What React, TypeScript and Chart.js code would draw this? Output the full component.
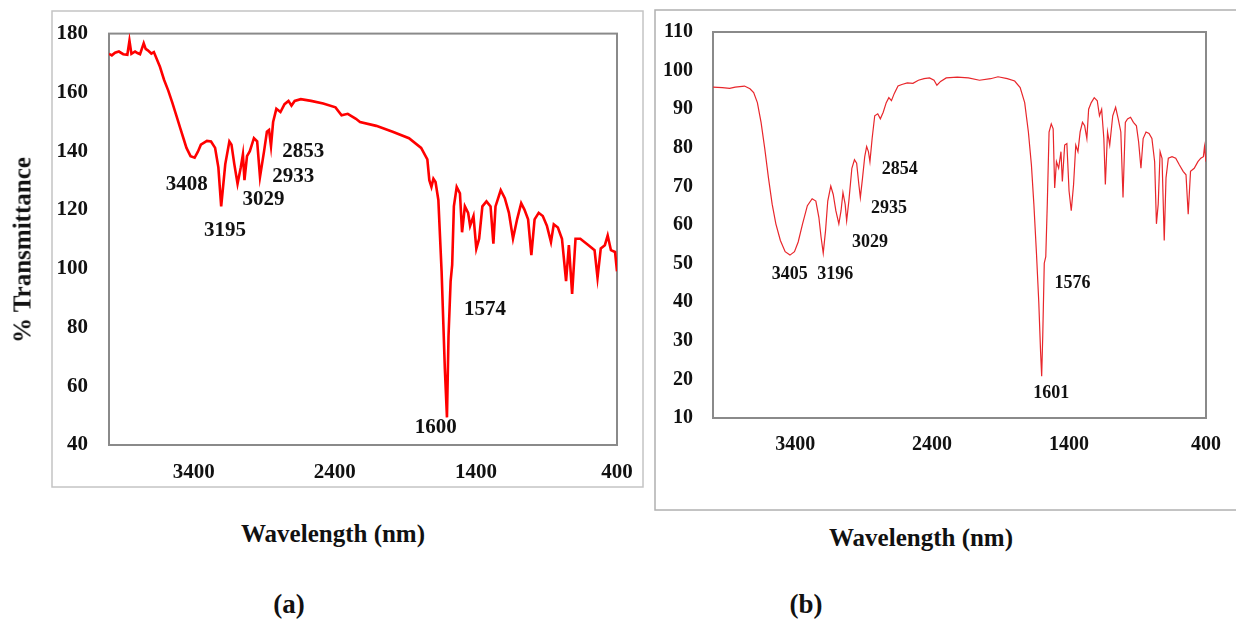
import React, { useEffect, useRef } from "react";
import { Chart, registerables } from "chart.js";

Chart.register(...registerables);

// ---------- Data: panel (a) ----------
const waveA = [4000, 3980, 3957, 3930, 3899, 3870, 3855, 3841, 3815, 3798, 3780, 3754, 3740, 3725, 3700, 3682, 3639, 3610, 3580, 3552, 3522, 3494, 3472, 3451, 3422, 3393, 3370, 3349, 3306, 3277, 3248, 3225, 3205, 3176, 3147, 3132, 3112, 3089, 3066, 3051, 3040, 3022, 3002, 2973, 2950, 2930, 2901, 2881, 2866, 2852, 2837, 2814, 2785, 2756, 2728, 2707, 2684, 2641, 2568, 2482, 2395, 2352, 2308, 2250, 2221, 2106, 1990, 1874, 1788, 1744, 1730, 1715, 1701, 1686, 1666, 1643, 1620, 1605, 1594, 1579, 1568, 1556, 1536, 1513, 1498, 1478, 1455, 1441, 1417, 1397, 1377, 1354, 1325, 1296, 1276, 1261, 1224, 1195, 1166, 1137, 1108, 1079, 1056, 1030, 1007, 984, 955, 926, 897, 868, 848, 819, 790, 761, 741, 718, 694, 660, 602, 559, 538, 515, 486, 466, 443, 414, 400];
const transA = [173.1, 172.6, 173.5, 173.9, 173.0, 172.8, 177.6, 173.1, 173.9, 173.4, 173.0, 176.7, 174.8, 174.3, 173.2, 173.7, 168.7, 164.3, 160.6, 156.6, 152.0, 147.7, 144.3, 141.1, 138.3, 137.8, 139.8, 142.2, 143.5, 143.3, 141.1, 134.5, 121.2, 135.6, 143.3, 142.2, 135.6, 128.9, 134.5, 138.9, 130.1, 138.3, 140, 144.4, 143.3, 131.2, 140, 146.6, 147.2, 141.7, 149.9, 154.4, 153.3, 156, 157.1, 155.5, 157.1, 157.7, 157.1, 156.2, 154.9, 152.2, 152.7, 151, 149.9, 148.6, 146.6, 144.4, 141.1, 137.2, 130.1, 127.8, 130.6, 129.5, 123.4, 99.1, 66, 49.4, 77, 95.8, 101.3, 121.2, 127.8, 125.6, 112.4, 121.2, 119, 114.6, 117.9, 106.8, 110.2, 121.2, 122.9, 121.2, 108.5, 121.2, 126.7, 124, 119, 110.2, 116.8, 122.3, 120.1, 116.8, 104.6, 116.8, 119, 117.9, 114.6, 109.1, 115.1, 114, 110.2, 95.8, 108, 91.4, 110.2, 110.2, 108, 106.3, 96.9, 106.9, 108, 111.3, 106.3, 105.7, 99.1];
const peakTextA = ["3408", "3195", "3029", "2933", "2853", "1600", "1574"];
const peakXA = [3449, 3178, 2906, 2694, 2623, 1684, 1335];
const peakYA = [128.5, 113, 123.5, 131.2, 139.9, 45.8, 86.1];

// ---------- Data: panel (b) ----------
const waveB = [4000, 3932, 3878, 3838, 3770, 3730, 3703, 3676, 3649, 3622, 3595, 3568, 3541, 3508, 3473, 3438, 3405, 3378, 3346, 3311, 3276, 3249, 3227, 3211, 3195, 3178, 3162, 3140, 3122, 3103, 3081, 3065, 3051, 3035, 3024, 3008, 2986, 2967, 2951, 2935, 2924, 2908, 2892, 2878, 2865, 2854, 2838, 2819, 2797, 2778, 2757, 2735, 2716, 2697, 2676, 2649, 2621, 2581, 2540, 2500, 2459, 2419, 2386, 2365, 2338, 2297, 2216, 2135, 2054, 1973, 1919, 1851, 1797, 1757, 1724, 1697, 1675, 1657, 1638, 1621, 1608, 1600, 1592, 1581, 1570, 1559, 1546, 1530, 1516, 1505, 1492, 1476, 1459, 1449, 1432, 1416, 1400, 1384, 1367, 1351, 1335, 1319, 1302, 1286, 1270, 1257, 1238, 1216, 1194, 1178, 1162, 1146, 1135, 1119, 1103, 1081, 1060, 1041, 1022, 1006, 989, 973, 951, 930, 908, 892, 875, 859, 838, 816, 795, 775, 762, 749, 735, 721, 705, 692, 675, 648, 621, 595, 567, 546, 530, 513, 486, 459, 438, 419, 411, 400];
const transB = [95.7, 95.6, 95.4, 95.7, 96, 95.3, 94.3, 91.7, 86.6, 79.8, 72.2, 65.4, 60.3, 56, 53.1, 52.2, 53.1, 55.6, 60.3, 65, 66.8, 66.2, 62, 56.9, 52.7, 58.6, 66.2, 70.1, 67.9, 63.7, 60.3, 63.7, 68.4, 65.4, 61.1, 66.2, 74.7, 76.9, 76, 70.5, 67.1, 72.2, 77.7, 80.3, 79, 76.4, 82.4, 88.3, 88.8, 87.5, 89.2, 91.7, 93, 92.2, 94.1, 96, 96.4, 96.8, 96.7, 97.5, 97.9, 98.1, 97.5, 96.2, 97.2, 98.1, 98.3, 98.1, 97.5, 97.9, 98.4, 97.9, 97.3, 95.6, 91.7, 84.1, 75.6, 65.4, 52.7, 39.9, 27.2, 20.8, 31.4, 50.1, 51.8, 65.4, 84.1, 86.2, 84.9, 69.6, 76.4, 74.7, 79, 71.3, 80.7, 81.1, 68.8, 63.7, 70.5, 80.7, 79, 84.1, 86.6, 85.7, 82.4, 90, 91.7, 93, 92.2, 88.3, 90, 82.4, 70.5, 84.1, 80.7, 88.3, 90.5, 87.5, 84.1, 67.1, 86.6, 87.5, 87.9, 86.6, 85.7, 81.5, 74.7, 82.4, 84.1, 83.7, 82.4, 76.4, 60.3, 65.4, 79, 77.3, 56, 72.2, 77.3, 77.7, 77.3, 75.6, 73.9, 73, 62.8, 73.9, 74.7, 76.4, 77.3, 77.7, 80.3, 76.4];
const peakTextB = ["3405", "3196", "3029", "2935", "2854", "1601", "1576"];
const peakXB = [3439, 3107, 2854, 2715, 2637, 1530, 1374];
const peakYB = [47.2, 47.2, 55.5, 64.2, 74.5, 16.5, 44.9];

// ---------- Axis ticks ----------
const xTickValues = [3400, 2400, 1400, 400];
const xMin = 400;
const xMax = 4000;
const yTicksA = { min: 40, max: 180, step: 20 };
const yTicksB = { min: 10, max: 110, step: 10 };

const FONT = "'Liberation Serif', 'Times New Roman', serif";

type PanelProps = {
  left: number;
  top: number;
  width: number;
  height: number;
  wave: number[];
  trans: number[];
  peakText: string[];
  peakX: number[];
  peakY: number[];
  yRange: { min: number; max: number; step: number };
  lineColor: string;
  lineWidth: number;
  tickFont: number;
  peakFont: number;
  padding: { left: number; top: number; right: number; bottom: number };
  yAxisWidth: number;
  xAxisHeight: number;
  yTickPad: number;
  xTickPad: number;
  frame: { x: number; y: number; w: number; h: number; color: string };
  plotBorder: string;
  plotBorderWidth: number;
};

function Panel(p: PanelProps) {
  const ref = useRef<HTMLCanvasElement | null>(null);
  useEffect(() => {
    if (!ref.current) return;
    const framePlugin = {
      id: "frames",
      beforeDraw(chart: any) {
        const ctx = chart.ctx;
        ctx.save();
        ctx.strokeStyle = p.frame.color;
        ctx.lineWidth = 1.5;
        ctx.strokeRect(p.frame.x, p.frame.y, p.frame.w, p.frame.h);
        ctx.restore();
      },
      beforeDatasetsDraw(chart: any) {
        const { ctx, chartArea } = chart;
        ctx.save();
        ctx.strokeStyle = p.plotBorder;
        ctx.lineWidth = p.plotBorderWidth;
        ctx.strokeRect(chartArea.left, chartArea.top, chartArea.right - chartArea.left, chartArea.bottom - chartArea.top);
        ctx.restore();
      },
      afterDatasetsDraw(chart: any) {
        const ctx = chart.ctx;
        const xs = chart.scales.x;
        const ys = chart.scales.y;
        ctx.save();
        ctx.fillStyle = "#111";
        ctx.font = `bold ${p.peakFont}px ${FONT}`;
        ctx.textAlign = "center";
        ctx.textBaseline = "middle";
        p.peakText.forEach((t, i) => {
          ctx.fillText(t, xs.getPixelForValue(p.peakX[i]), ys.getPixelForValue(p.peakY[i]));
        });
        ctx.restore();
      },
    };
    const chart = new Chart(ref.current, {
      type: "line",
      data: {
        datasets: [
          {
            data: p.wave.map((w, i) => ({ x: w, y: p.trans[i] })),
            borderColor: p.lineColor,
            borderWidth: p.lineWidth,
            pointRadius: 0,
            tension: 0,
            fill: false,
          },
        ],
      },
      options: {
        animation: false,
        responsive: false,
        maintainAspectRatio: false,
        devicePixelRatio: 1,
        layout: { padding: p.padding },
        plugins: { legend: { display: false }, tooltip: { enabled: false }, title: { display: false } },
        scales: {
          x: {
            type: "linear",
            min: xMin,
            max: xMax,
            reverse: true,
            grid: { display: false, drawTicks: false },
            border: { display: false },
            afterBuildTicks: (scale: any) => {
              scale.ticks = xTickValues.map((v) => ({ value: v }));
            },
            afterFit: (scale: any) => {
              scale.height = p.xAxisHeight;
            },
            ticks: {
              autoSkip: false,
              maxRotation: 0,
              padding: p.xTickPad,
              color: "#111",
              font: { family: FONT, size: p.tickFont, weight: "bold" },
              callback: (v: any) => String(v),
            },
          },
          y: {
            type: "linear",
            min: p.yRange.min,
            max: p.yRange.max,
            grid: { display: false, drawTicks: false },
            border: { display: false },
            afterFit: (scale: any) => {
              scale.width = p.yAxisWidth;
            },
            ticks: {
              stepSize: p.yRange.step,
              padding: p.yTickPad,
              color: "#111",
              font: { family: FONT, size: p.tickFont, weight: "bold" },
            },
          },
        },
      } as any,
      plugins: [framePlugin],
    });
    return () => chart.destroy();
  }, []);
  return (
    <canvas
      ref={ref}
      width={p.width}
      height={p.height}
      style={{ position: "absolute", left: p.left, top: p.top, width: p.width, height: p.height }}
    />
  );
}

const textStyle = (x: number, y: number, size: number, rotate = false): React.CSSProperties => ({
  position: "absolute",
  left: x,
  top: y,
  transform: `translate(-50%, -50%)${rotate ? " rotate(-90deg)" : ""}`,
  fontFamily: FONT,
  fontWeight: "bold",
  fontSize: size,
  whiteSpace: "nowrap",
  color: "#111",
  lineHeight: 1,
});

export default function App() {
  return (
    <div style={{ position: "absolute", left: 0, top: 0, width: 1236, height: 622, background: "#fff", overflow: "hidden" }}>
      <Panel
        left={0}
        top={0}
        width={648}
        height={500}
        wave={waveA}
        trans={transA}
        peakText={peakTextA}
        peakX={peakXA}
        peakY={peakYA}
        yRange={yTicksA}
        lineColor="#ff0000"
        lineWidth={2.6}
        tickFont={21}
        peakFont={21}
        padding={{ left: 52, top: 23, right: 31, bottom: 0 }}
        yAxisWidth={57}
        xAxisHeight={55}
        yTickPad={21}
        xTickPad={15}
        frame={{ x: 52, y: 11, w: 591, h: 476, color: "#c4c4c4" }}
        plotBorder="#8a8a8a"
        plotBorderWidth={2}
      />
      <Panel
        left={648}
        top={0}
        width={588}
        height={520}
        wave={waveB}
        trans={transB}
        peakText={peakTextB}
        peakX={peakXB}
        peakY={peakYB}
        yRange={yTicksB}
        lineColor="#e8262b"
        lineWidth={1.2}
        tickFont={20}
        peakFont={18}
        padding={{ left: 7, top: 25, right: 18, bottom: 0 }}
        yAxisWidth={58}
        xAxisHeight={102}
        yTickPad={20}
        xTickPad={15}
        frame={{ x: 7, y: 10, w: 600, h: 500, color: "#b0b0b0" }}
        plotBorder="#8a8a8a"
        plotBorderWidth={2}
      />
      <div style={textStyle(22, 250, 25, true)}>% Transmittance</div>
      <div style={textStyle(333, 533, 25)}>Wavelength (nm)</div>
      <div style={textStyle(921, 537, 25)}>Wavelength (nm)</div>
      <div style={textStyle(289, 604, 27)}>(a)</div>
      <div style={textStyle(806, 604, 27)}>(b)</div>
    </div>
  );
}
